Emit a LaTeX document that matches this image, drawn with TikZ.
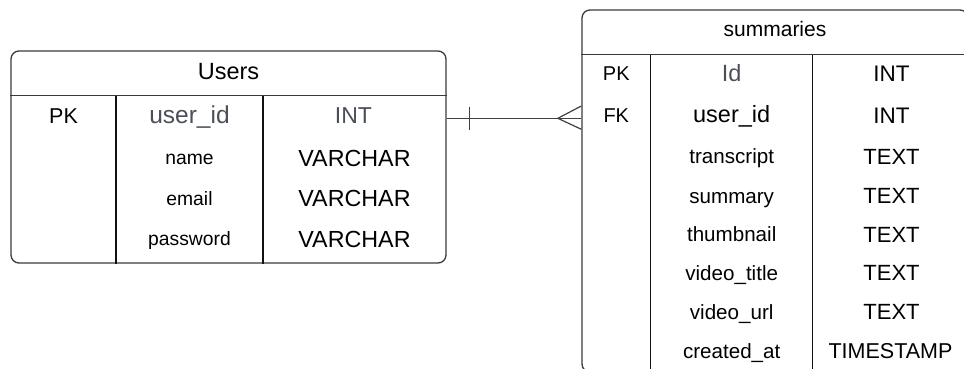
\documentclass[tikz,border=0pt]{standalone}
\usepackage{fontspec}
\setmainfont{Liberation Sans}
\newcommand\fsz[1]{\fontsize{#1}{#1}\selectfont}
\definecolor{boxline}{HTML}{3A3A3A}
\definecolor{colline}{HTML}{111111}
\definecolor{keytext}{HTML}{4A4F59}
\definecolor{linkline}{HTML}{404040}
\begin{document}
\begin{tikzpicture}[x=1pt,y=-1pt,
  tablebox/.style={draw=boxline, line width=1.3pt, rounded corners=8pt, inner sep=0pt},
  rule/.style={draw=boxline, line width=1.3pt},
  colrule/.style={draw=colline, line width=1.3pt},
  cell/.style={anchor=base, inner sep=0pt, text=black},
  keycell/.style={cell, text=keytext},
  rel/.style={draw=linkline, line width=1.2pt}]
\useasboundingbox (0,0) rectangle (964,369);
\clip (0,0) rectangle (964,369);

% ---------------- Users table ----------------
\node[tablebox, minimum width=435pt, minimum height=212pt] (users) at (228.5,157) {};
\draw[rule] (users.west |- 0,95.7) -- (users.east |- 0,95.7);
\draw[colrule] (116,95.7) -- (116,0 |- users.south);
\draw[colrule] (263,95.7) -- (263,0 |- users.south);

\node[cell, font=\fsz{23.5}] (uhead) at (228.5,79.5) {Users};
\node[cell, font=\fsz{21.5}] (upk) at (63.5,123.5) {PK};
\node[keycell, font=\fsz{24.5}] (uid) at (189.5,123.5) {user\_id};
\node[keycell, font=\fsz{23}] (uidt) at (353.5,123.8) {INT};
\node[cell, font=\fsz{19.3}] (uname) at (189.5,164.5) {name};
\node[cell, font=\fsz{23.3}] (unamet) at (354.5,166) {VARCHAR};
\node[cell, font=\fsz{19.3}] (uemail) at (189.5,205.3) {email};
\node[cell, font=\fsz{23.3}] (uemailt) at (354.5,206.5) {VARCHAR};
\node[cell, font=\fsz{19.3}] (upass) at (189.5,245.7) {password};
\node[cell, font=\fsz{23.3}] (upasst) at (354.5,247) {VARCHAR};

% ---------------- summaries table ----------------
\node[tablebox, minimum width=386pt, minimum height=362pt] (summ) at (775,191) {};
\draw[rule] (summ.west |- 0,54.8) -- (summ.east |- 0,54.8);
\draw[colrule] (650.7,54.8) -- (650.7,0 |- summ.south);
\draw[colrule] (812.7,54.8) -- (812.7,0 |- summ.south);

\node[cell, font=\fsz{21}] (shead) at (775,36.6) {summaries};
\node[cell, font=\fsz{20}] (spk) at (616.3,81) {PK};
\node[keycell, font=\fsz{23.5}] (sid) at (731.7,81.5) {Id};
\node[cell, font=\fsz{22.5}] (sidt) at (891.5,81.8) {INT};
\node[cell, font=\fsz{20}] (sfk) at (616.3,122.7) {FK};
\node[cell, font=\fsz{23.5}] (suid) at (731.7,122.9) {user\_id};
\node[cell, font=\fsz{22.5}] (suidt) at (891.5,123) {INT};
\node[cell, font=\fsz{20.6}] (strans) at (731.7,163.5) {transcript};
\node[cell, font=\fsz{22}] (stranst) at (891.5,164) {TEXT};
\node[cell, font=\fsz{20.6}] (ssum) at (731.7,203) {summary};
\node[cell, font=\fsz{22}] (ssumt) at (891.5,203.3) {TEXT};
\node[cell, font=\fsz{20.6}] (sthumb) at (731.7,241.8) {thumbnail};
\node[cell, font=\fsz{22}] (sthumbt) at (891.5,242) {TEXT};
\node[cell, font=\fsz{20.6}] (stitle) at (731.7,280.5) {video\_title};
\node[cell, font=\fsz{22}] (stitlet) at (891.5,280.8) {TEXT};
\node[cell, font=\fsz{20.6}] (surl) at (731.7,319.2) {video\_url};
\node[cell, font=\fsz{22}] (surlt) at (891.5,319.5) {TEXT};
\node[cell, font=\fsz{20.6}] (screated) at (731.7,358) {created\_at};
\node[cell, font=\fsz{21.5}] (screatedt) at (890.5,358.3) {TIMESTAMP};

% ---------------- one-to-many relationship ----------------
\coordinate (linky) at (0,118.3);
\coordinate (one) at (users.east |- linky);
\coordinate (many) at (summ.west |- linky);
\draw[rel] (one) -- (many);
% "one" bar near Users
\draw[rel] ([xshift=23pt,yshift=11.7pt]one) -- ([xshift=23pt,yshift=-11.7pt]one);
% crow's foot at summaries
\draw[rel] ([yshift=12.3pt]many) -- ([xshift=-23.5pt]many) -- ([yshift=-11pt]many);
\end{tikzpicture}
\end{document}
